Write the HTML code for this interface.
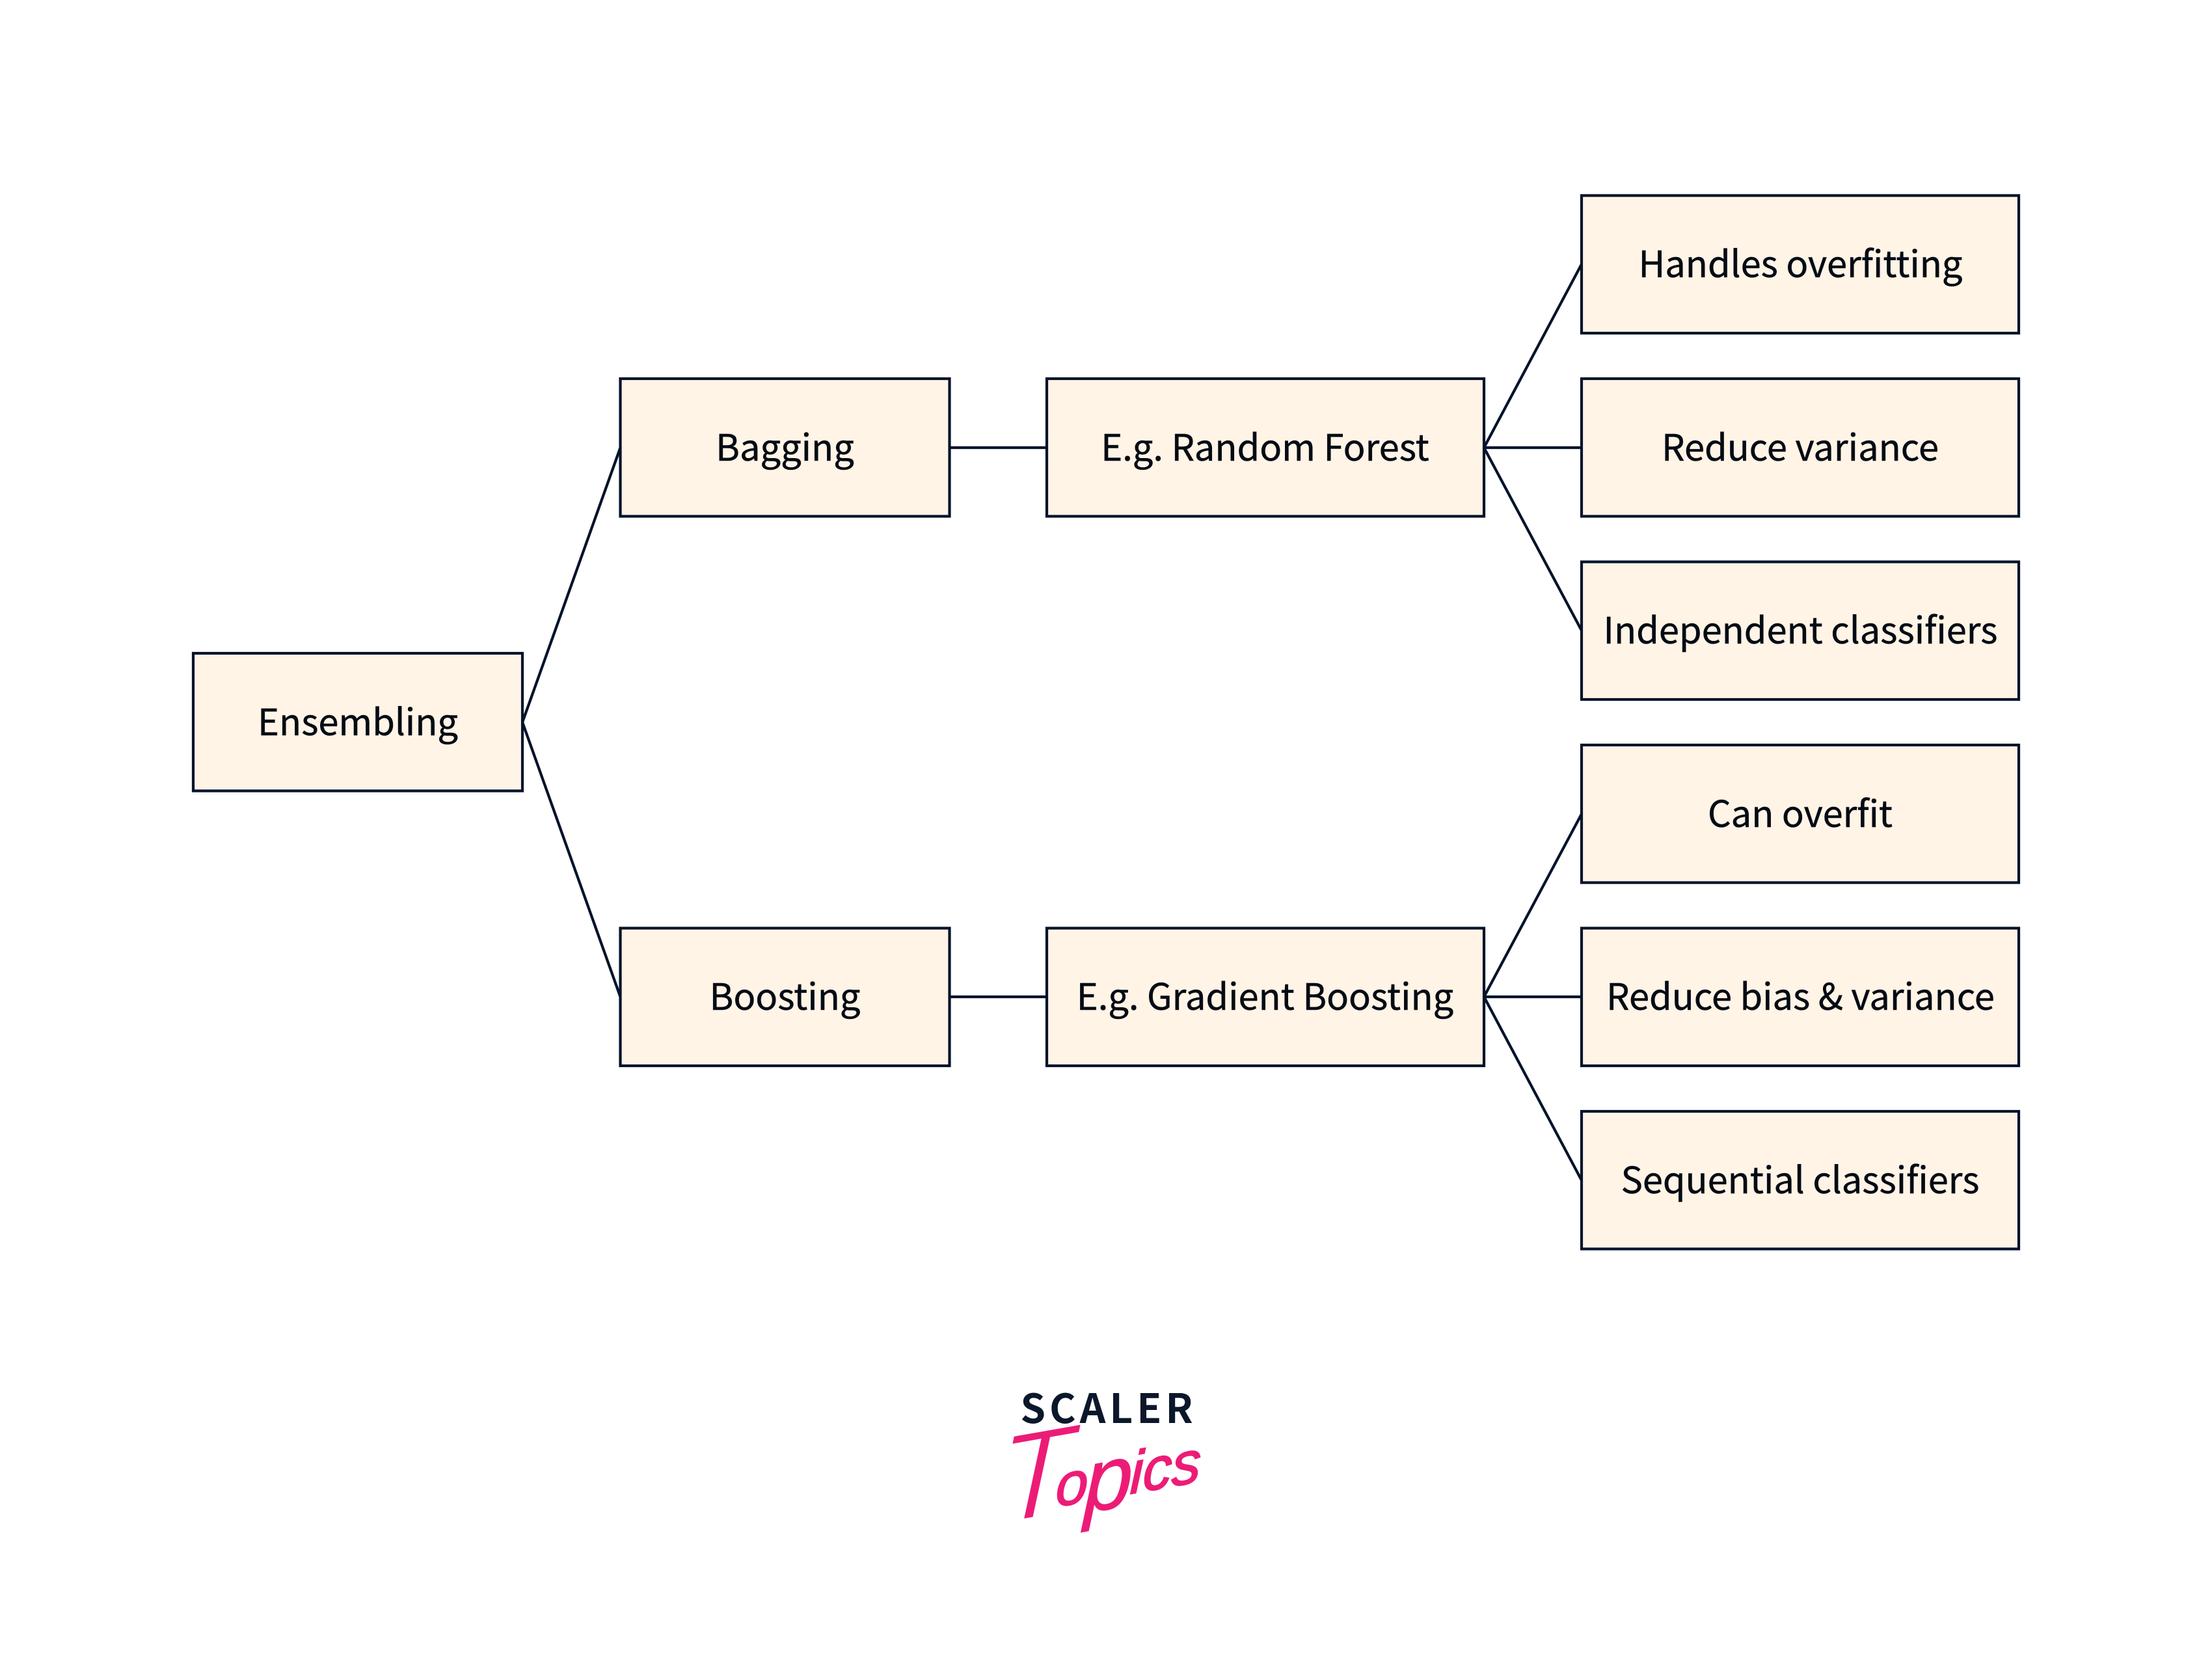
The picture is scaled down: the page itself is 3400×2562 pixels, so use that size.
<!DOCTYPE html>
<html><head><meta charset="utf-8"><style>html,body{margin:0;padding:0;background:#fff}svg{display:block}
.b{fill:#FFF4E6;stroke:#02132B;stroke-width:4.2}
.t{font-family:"Noto Sans CJK JP","Liberation Sans",sans-serif;font-size:56px;fill:#050b14;stroke:#050b14;stroke-width:.5;text-anchor:middle}
.l{stroke:#02132B;stroke-width:4.2;fill:none}
</style></head><body>
<svg width="3400" height="2562" viewBox="0 0 3400 2562" xmlns="http://www.w3.org/2000/svg">
<path class="l" d="M803 1110L953.500 688M803 1110L953.500 1532M1459.500 688H1609M1459.500 1532H1609M2281 688L2431 406M2281 688H2431M2281 688L2431 969M2281 1532L2431 1251M2281 1532H2431M2281 1532L2431 1814"/>
<rect class="b" x="297" y="1004" width="506" height="211.500"/>
<rect class="b" x="953.500" y="582" width="506" height="211.500"/>
<rect class="b" x="953.500" y="1426.500" width="506" height="211.500"/>
<rect class="b" x="1609" y="582" width="672" height="211.500"/>
<rect class="b" x="1609" y="1426.500" width="672" height="211.500"/>
<rect class="b" x="2431" y="300.500" width="672" height="211.500"/>
<rect class="b" x="2431" y="582" width="672" height="211.500"/>
<rect class="b" x="2431" y="863.500" width="672" height="211.500"/>
<rect class="b" x="2431" y="1145" width="672" height="211.500"/>
<rect class="b" x="2431" y="1426.500" width="672" height="211.500"/>
<rect class="b" x="2431" y="1708" width="672" height="211.500"/>
<text class="t" x="550" y="1130">Ensembling</text>
<text class="t" x="1206.500" y="708">Bagging</text>
<text class="t" x="1206.500" y="1552">Boosting</text>
<text class="t" x="1944.500" y="708">E.g. Random Forest</text>
<text class="t" x="1944.500" y="1552">E.g. Gradient Boosting</text>
<text class="t" x="2767.500" y="426">Handles overfitting</text>
<text class="t" x="2767" y="708">Reduce variance</text>
<text class="t" x="2767.500" y="989">Independent classifiers</text>
<text class="t" x="2767" y="1271">Can overfit</text>
<text class="t" x="2767.500" y="1552">Reduce bias &amp; variance</text>
<text class="t" x="2767" y="1834">Sequential classifiers</text>
<text transform="translate(1533 2343) rotate(-10) skewX(-12)" font-family="Liberation Sans,sans-serif" font-style="italic" fill="#EC1C76"><tspan font-size="190" stroke="#fff" stroke-width="4">T</tspan><tspan font-size="90" dx="-26" dy="-11" stroke="#EC1C76" stroke-width="2">o</tspan><tspan font-size="135" dx="-5" dy="17" stroke="#EC1C76" stroke-width="1">p</tspan><tspan font-size="90" dx="-4" dy="-17" stroke="#EC1C76" stroke-width="2">ics</tspan></text>
<text x="1704" y="2187" text-anchor="middle" font-family="Noto Sans CJK JP,Liberation Sans,sans-serif" font-weight="700" font-size="62" letter-spacing="6" fill="#0B172A">SCALER</text>
</svg>
</body></html>
